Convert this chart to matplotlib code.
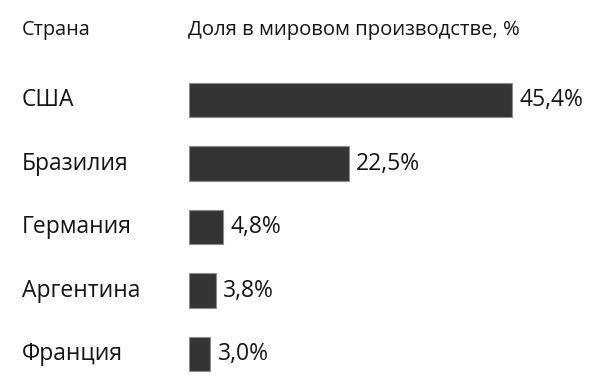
import matplotlib
matplotlib.use("Agg")
import matplotlib.pyplot as plt
import matplotlib.transforms as mtransforms

countries = ["США", "Бразилия", "Германия", "Аргентина", "Франция"]
shares = [45.4, 22.5, 4.8, 3.8, 3.0]
value_labels = ["45,4%", "22,5%", "4,8%", "3,8%", "3,0%"]

plt.rcParams['font.family'] = ['Open Sans', 'DejaVu Sans']

fig = plt.figure(figsize=(6, 3.86), dpi=100)
# bars start at x=189 px, ~7.12 px per percent
ax = fig.add_axes([189 / 600, 0.0006, 400 / 600, 317.5 / 386])

ypos = list(range(len(countries)))
ax.barh(ypos, shares, height=0.545, color="#343434", edgecolor="#8c8c8c", linewidth=0.8)
ax.set_xlim(0, 400 / 7.12)
ax.set_ylim(len(countries) - 0.5, -0.5)
ax.axis("off")

trans = mtransforms.blended_transform_factory(fig.transFigure, ax.transData)
for y, name, v, lab in zip(ypos, countries, shares, value_labels):
    ax.text(22 / 600, y, name, transform=trans, ha="left", va="center",
            fontsize=16.5, color="#151515")
    ax.text(v + 1.0, y, lab, ha="left", va="center", fontsize=16.5, color="#151515")

fig.text(22 / 600, 1 - 35 / 386, "Страна", ha="left", va="baseline",
         fontsize=14.3, color="#151515")
fig.text(188 / 600, 1 - 35 / 386, "Доля в мировом производстве, %", ha="left", va="baseline",
         fontsize=14.6, color="#151515")

fig.savefig("out.png", dpi=100)
